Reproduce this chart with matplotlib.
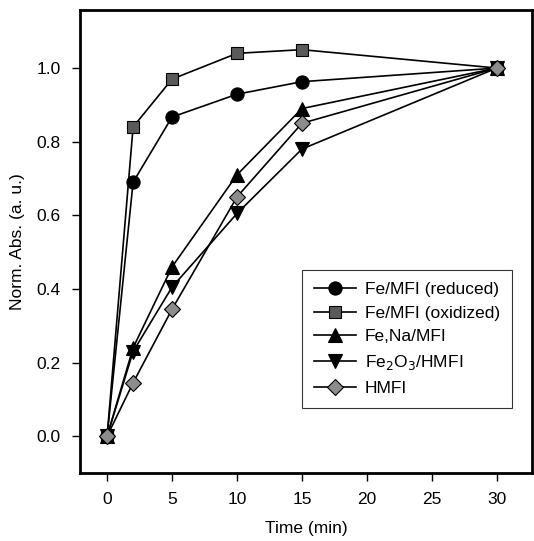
import numpy as np
import matplotlib.pyplot as plt

plt.rcParams['font.family'] = ['Liberation Sans', 'DejaVu Sans']

# Data
time = [0, 2, 5, 10, 15, 30]
reduced  = [0.0, 0.69, 0.867, 0.929, 0.963, 1.0]
oxidized = [0.0, 0.84, 0.97, 1.04, 1.05, 1.0]
fe_na    = [0.0, 0.24, 0.46, 0.71, 0.89, 1.0]
fe2o3    = [0.0, 0.23, 0.405, 0.605, 0.78, 1.0]
hmfi     = [0.0, 0.145, 0.345, 0.65, 0.85, 1.0]

fig = plt.figure(figsize=(5.34, 5.41), dpi=100)
ax = fig.add_axes([0.150, 0.1257, 0.846, 0.856])

kw = dict(color='black', lw=1.2, markeredgecolor='black', markeredgewidth=0.8)
ax.plot(time, reduced, marker='o', ms=9.5, markerfacecolor='black', label="Fe/MFI (reduced)", **kw)
ax.plot(time, oxidized, marker='s', ms=8, markerfacecolor='#5a5a5a', label="Fe/MFI (oxidized)", **kw)
ax.plot(time, fe_na, marker='^', ms=9.5, markerfacecolor='black', label="Fe,Na/MFI", **kw)
ax.plot(time, fe2o3, marker='v', ms=9.5, markerfacecolor='black', label="Fe$_2$O$_3$/HMFI", **kw)
ax.plot(time, hmfi, marker='D', ms=8, markerfacecolor='#8c8c8c', label="HMFI", **kw)

ax.set_xlim(-2.08, 32.7)
ax.set_ylim(-0.10, 1.158)
ax.set_xticks([0, 5, 10, 15, 20, 25, 30])
ax.set_yticks([0.0, 0.2, 0.4, 0.6, 0.8, 1.0])
ax.set_yticklabels(["0.0", "0.2", "0.4", "0.6", "0.8", "1.0"])
ax.tick_params(direction='out', length=6, width=1, labelsize=12.5, pad=8)
for s in ax.spines.values():
    s.set_linewidth(2)

ax.set_xlabel("Time (min)", fontsize=12.5, labelpad=10)
ax.set_ylabel("Norm. Abs. (a. u.)", fontsize=12.5, labelpad=8)

leg = ax.legend(loc='lower right', bbox_to_anchor=(0.956, 0.14), borderaxespad=0,
                fontsize=12.5, frameon=True, fancybox=False, edgecolor='black',
                handlelength=2.4, labelspacing=0.5, borderpad=0.7, handletextpad=0.5)
leg.get_frame().set_linewidth(0.8)

plt.savefig("out.png", dpi=100)
